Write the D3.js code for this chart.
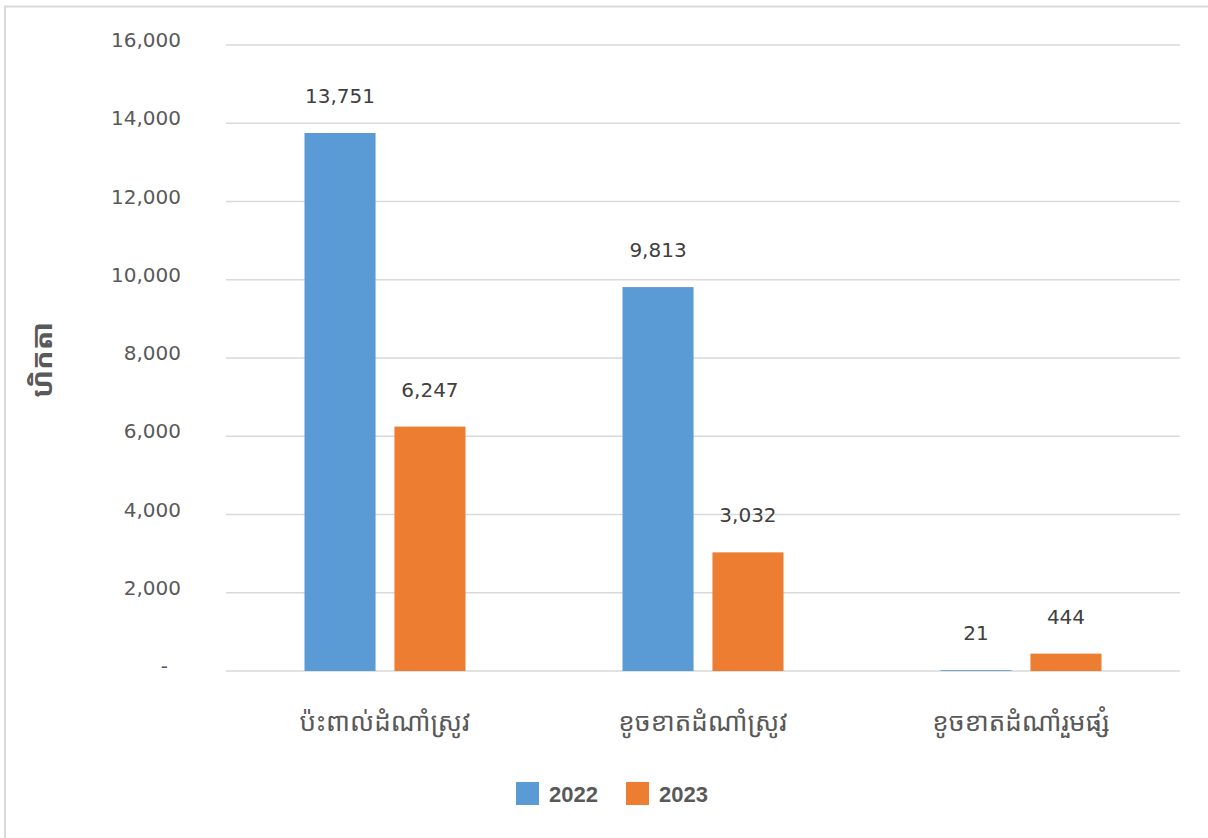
<!DOCTYPE html>
<html>
<head>
<meta charset="utf-8">
<script src="https://cdn.jsdelivr.net/npm/d3@7"></script>
<style>
  html, body { margin: 0; padding: 0; background: #fff; }
  svg { display: block; }
</style>
</head>
<body>
<svg id="chart" width="1208" height="838"></svg>
<script>
const categories = ["ប៉ះពាល់ដំណាំស្រូវ", "ខូចខាតដំណាំស្រូវ", "ខូចខាតដំណាំរួមផ្សំ"];
const seriesNames = ["2022", "2023"];
const values2022 = [13751, 9813, 21];
const values2023 = [6247, 3032, 444];
const yTicks = [0, 2000, 4000, 6000, 8000, 10000, 12000, 14000, 16000];
const yTitle = "ហិកតា";
const colors = ["#5b9bd5", "#ed7d31"];

(function () {
const svg = d3.select("#chart");
const numFont = "'DejaVu Sans', Verdana, sans-serif";
const khmerFont = "'Khmer OS', 'Noto Sans Khmer', 'Khmer OS System', 'DejaVu Sans', sans-serif";

// chart border
svg.append("rect").attr("x", 5).attr("y", 6.5).attr("width", 1220).attr("height", 850)
  .attr("fill", "none").attr("stroke", "#d9d9d9").attr("stroke-width", 2);

const pLeft = 226, pRight = 1180, pTop = 45, pBottom = 671;
const x0 = d3.scaleBand().domain(categories).range([pLeft, pRight]);
const x1 = d3.scaleBand().domain(seriesNames).range([0, 161]).paddingInner(0.21);
const y = d3.scaleLinear().domain([0, 16000]).range([pBottom, pTop]);

// gridlines
svg.append("g").selectAll("line").data(yTicks).join("line")
  .attr("x1", pLeft).attr("x2", pRight)
  .attr("y1", d => y(d)).attr("y2", d => y(d))
  .attr("stroke", "#d9d9d9").attr("stroke-width", 1.5);

// y tick labels
const fmt = d3.format(",");
svg.append("g").selectAll("text").data(yTicks).join("text")
  .attr("x", d => d === 0 ? 168 : 181)
  .attr("y", d => y(d) - 5)
  .attr("dy", "0.35em")
  .attr("text-anchor", "end")
  .attr("font-family", numFont).attr("font-size", 20).attr("fill", "#595959")
  .text(d => d === 0 ? "-" : fmt(d));

// y title
svg.append("text")
  .attr("transform", `translate(52,360) rotate(-90)`)
  .attr("text-anchor", "middle")
  .attr("font-family", khmerFont).attr("font-size", 29).attr("font-weight", "bold")
  .attr("fill", "#595959")
  .text(yTitle);

// bars
const data = categories.map((c, i) => ({ cat: c, vals: [
  { s: seriesNames[0], v: values2022[i], c: colors[0] },
  { s: seriesNames[1], v: values2023[i], c: colors[1] }
]}));

const groups = svg.append("g").selectAll("g").data(data).join("g")
  .attr("transform", d => `translate(${x0(d.cat) + x0.bandwidth() / 2 - 80.5},0)`);

groups.selectAll("rect").data(d => d.vals).join("rect")
  .attr("x", d => x1(d.s))
  .attr("width", x1.bandwidth())
  .attr("y", d => y(d.v))
  .attr("height", d => y(0) - y(d.v))
  .attr("fill", d => d.c);

groups.selectAll("text").data(d => d.vals).join("text")
  .attr("x", d => x1(d.s) + x1.bandwidth() / 2)
  .attr("y", d => y(d.v) - 30)
  .attr("text-anchor", "middle")
  .attr("font-family", numFont).attr("font-size", 20).attr("fill", "#404040")
  .text(d => fmt(d.v));

// category labels
svg.append("g").selectAll("text").data(categories).join("text")
  .attr("x", d => x0(d) + x0.bandwidth() / 2)
  .attr("y", 731)
  .attr("text-anchor", "middle")
  .attr("font-family", khmerFont).attr("font-size", 26)
  .attr("fill", "#595959")
  .text(d => d);

// legend
const legendX = [516, 626];
const lg = svg.append("g").selectAll("g").data(seriesNames).join("g")
  .attr("transform", (d, i) => `translate(${legendX[i]},782)`);
lg.append("rect").attr("width", 23).attr("height", 23).attr("fill", (d, i) => colors[i]);
lg.append("text").attr("x", 33).attr("y", 12).attr("dy", "0.35em")
  .attr("font-family", "'Liberation Sans', Arial, sans-serif").attr("font-size", 22)
  .attr("font-weight", "bold").attr("fill", "#595959")
  .text(d => d);
})();
</script>
</body>
</html>
